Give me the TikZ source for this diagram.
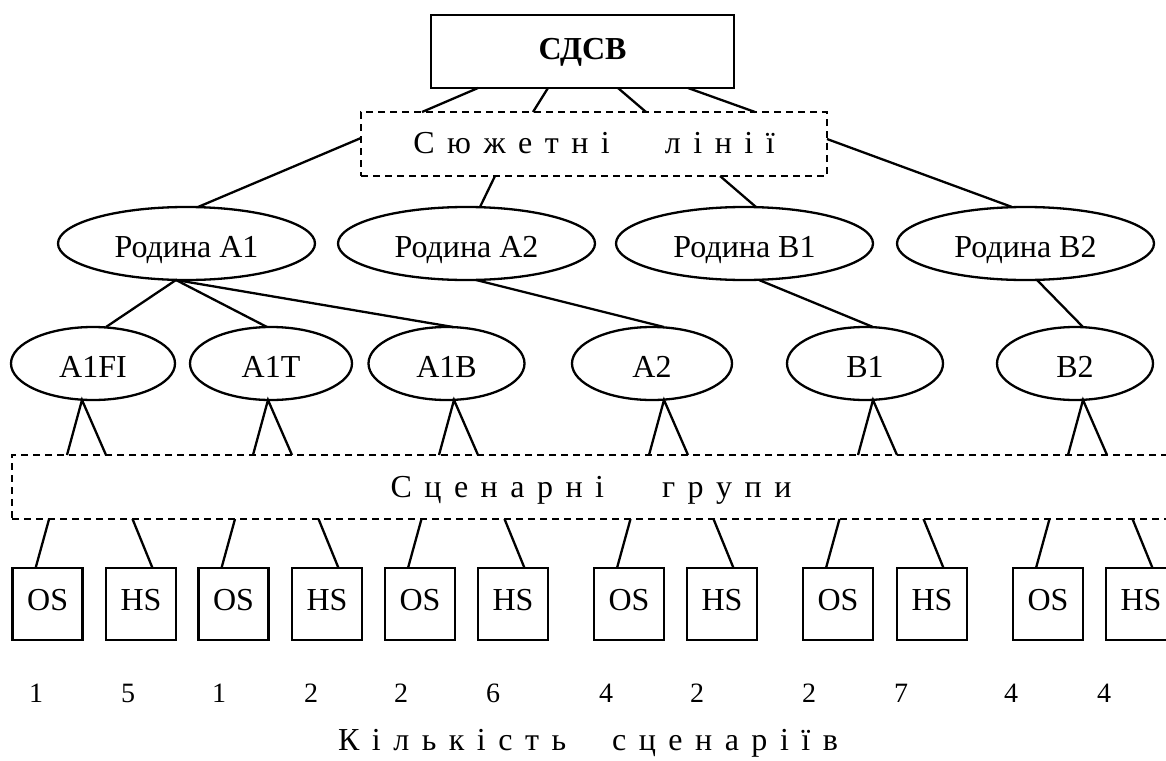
\documentclass[tikz,border=0pt]{standalone}
\usepackage{fontspec}
\setmainfont{Liberation Serif}
\usetikzlibrary{shapes.geometric,calc}
\newcommand\lsp{\hspace{12.5pt}}
\begin{document}
\begin{tikzpicture}[x=1pt,y=-1pt,
  every node/.style={inner sep=0pt,outer sep=0pt,font=\fontsize{32}{38}\selectfont},
  ln/.style={line width=2.3pt},
  topbox/.style={draw,rectangle,line width=2.5pt,minimum width=303pt,minimum height=73pt,text height=21.2pt,text depth=5pt},
  dbox/.style={draw,rectangle,line width=2pt,dash pattern=on 7pt off 5pt,minimum height=64pt,text height=21.2pt},
  fam/.style={draw,ellipse,line width=2.3pt,minimum width=257pt,minimum height=73pt,text height=28pt,text depth=0pt},
  scn/.style={draw,ellipse,line width=2.3pt,minimum height=73pt,text height=28pt,text depth=0pt},
  sbox/.style={draw,rectangle,line width=2.5pt,minimum width=70pt,minimum height=72pt,text height=21.2pt,text depth=8pt},
  num/.style={font=\fontsize{28}{34}\selectfont}]
\useasboundingbox (0,0) rectangle (1166,760);
\clip (0,0) rectangle (1166,760);

% top
\node[topbox] (sdsv) at (582.5,51.5) {\bfseries СДСВ};
\node[dbox,minimum width=466pt,text depth=3pt] (plot) at (594,144)
  {С\lsp ю\lsp ж\lsp е\lsp т\lsp н\lsp і\hspace{55pt}л\lsp і\lsp н\lsp і\lsp ї};

% families
\node[fam] (famA1) at (186.5,243.5) {Родина А1};
\node[fam] (famA2) at (466.5,243.5) {Родина А2};
\node[fam] (famB1) at (744.5,243.5) {Родина В1};
\node[fam] (famB2) at (1025.5,243.5) {Родина В2};

% scenario families
\node[scn,minimum width=164pt] (sA1FI) at (93,363.5) {A1FI};
\node[scn,minimum width=162pt] (sA1T) at (271,363.5) {A1T};
\node[scn,minimum width=156pt] (sA1B) at (446.5,363.5) {A1B};
\node[scn,minimum width=160pt] (sA2) at (652,363.5) {A2};
\node[scn,minimum width=156pt] (sB1) at (865,363.5) {B1};
\node[scn,minimum width=156pt] (sB2) at (1075,363.5) {B2};

% scenario groups
\node[dbox,minimum width=1158pt,text depth=0pt] (grp) at (591,487)
  {С\lsp ц\lsp е\lsp н\lsp а\lsp р\lsp н\lsp і\hspace{58pt}г\lsp р\lsp у\lsp п\lsp и};

% boxes
\foreach \i/\x/\t in {1/47.6/OS,2/141/HS,3/233.5/OS,4/327/HS,5/420/OS,6/513/HS,
                      7/629/OS,8/722/HS,9/838/OS,10/932/HS,11/1048/OS,12/1141/HS}
  \node[sbox] (b\i) at (\x,604) {\t};

% numbers
\foreach \i/\x/\n in {1/36/1,2/128/5,3/219/1,4/311/2,5/401/2,6/493/6,
                      7/606/4,8/697/2,9/809/2,10/901/7,11/1011/4,12/1104/4}
  \node[num] (n\i) at (\x,693) {\n};

\node (cap) at (588,743)
  {К\lsp і\lsp л\lsp ь\lsp к\lsp і\lsp с\lsp т\lsp ь\hspace{46pt}с\lsp ц\lsp е\lsp н\lsp а\lsp р\lsp і\lsp ї\lsp в};

% connectors: top -> plot lines
\draw[ln] ($(sdsv.south)+(-104.5,0)$) -- ($(plot.north)+(-172,0)$);
\draw[ln] ($(sdsv.south)+(-34.5,0)$) -- ($(plot.north)+(-61,0)$);
\draw[ln] ($(sdsv.south)+(35.5,0)$) -- ($(plot.north)+(52,0)$);
\draw[ln] ($(sdsv.south)+(105.5,0)$) -- ($(plot.north)+(161,0)$);

% plot lines -> families
\draw[ln] ($(plot.west)+(0,-6)$) -- ($(famA1.north)+(11.5,0)$);
\draw[ln] ($(plot.south)+(-99,0)$) -- ($(famA2.north)+(13.5,0)$);
\draw[ln] ($(plot.south)+(126,0)$) -- ($(famB1.north)+(11.5,0)$);
\draw[ln] ($(plot.east)+(0,-5)$) -- ($(famB2.north)+(-13.5,0)$);

% families -> scenario families
\draw[ln] ($(famA1.south)+(-10.5,0)$) -- ($(sA1FI.north)+(13,0)$);
\draw[ln] ($(famA1.south)+(-10.5,0)$) -- ($(sA1T.north)+(-4,0)$);
\draw[ln] ($(famA1.south)+(-10.5,0)$) -- ($(sA1B.north)+(6.5,0)$);
\draw[ln] ($(famA2.south)+(9.5,0)$) -- ($(sA2.north)+(12,0)$);
\draw[ln] ($(famB1.south)+(14.5,0)$) -- ($(sB1.north)+(8,0)$);
\draw[ln] ($(famB2.south)+(11.5,0)$) -- ($(sB2.north)+(8,0)$);

% scenario families -> groups (Lambda shapes)
\foreach \s/\a in {sA1FI/-11,sA1T/-3,sA1B/7.5,sA2/12,sB1/8,sB2/8}
  \draw[ln,line join=miter] ($(\s.south)+(\a-15,55)$) -- ($(\s.south)+(\a,0)$) -- ($(\s.south)+(\a+24,55)$);

% groups -> boxes
\foreach \i in {1,3,5,7,9,11}
  \draw[ln] ($(b\i.north)+(1.5,-49)$) -- ($(b\i.north)+(-12,0)$);
\foreach \i in {2,4,6,8,10,12}
  \draw[ln] ($(b\i.north)+(-8.5,-49)$) -- ($(b\i.north)+(11.5,0)$);
\end{tikzpicture}
\end{document}
